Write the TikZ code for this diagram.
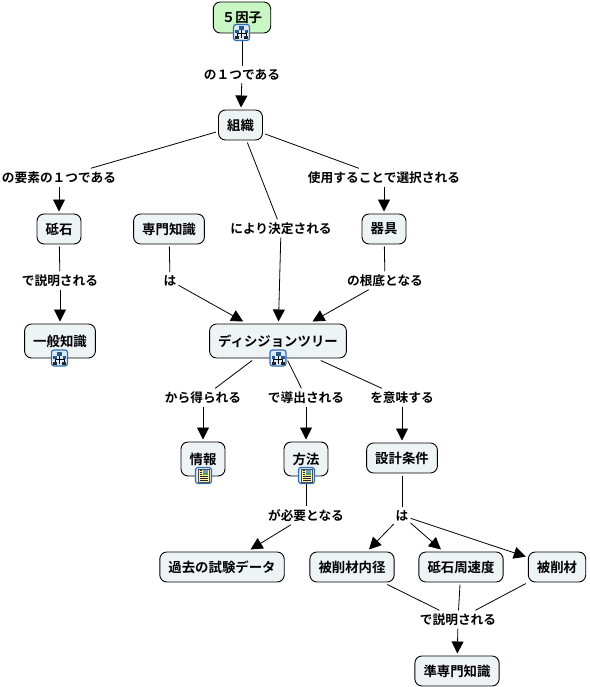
\documentclass[tikz,border=0pt]{standalone}
\usepackage{fontspec}
\setmainfont{Noto Sans CJK JP Bold}
\usetikzlibrary{arrows.meta}

\definecolor{conceptfill}{HTML}{EEF3F6}
\definecolor{rootfill}{HTML}{C9F7C4}
\definecolor{iconblue}{HTML}{2F6DB5}
\definecolor{iconpale}{HTML}{DCEBFA}
\definecolor{pagefill}{HTML}{FBF3A8}

\begin{document}
\begin{tikzpicture}[x=1pt,y=-1pt,
    concept/.style={draw=black,line width=0.9pt,fill=conceptfill,rounded corners=7pt,
        font=\fontsize{13.4}{13.4}\selectfont,inner xsep=8.6pt,inner ysep=0pt,
        minimum height=30pt,outer sep=2.5pt},
    root/.style={concept,fill=rootfill,minimum height=31pt},
    tall/.style={concept,minimum height=34pt},
    phrase/.style={font=\fontsize{12.7}{13}\selectfont,inner xsep=2pt,inner ysep=3pt},
    link/.style={line width=0.8pt},
    linkto/.style={line width=0.8pt,-{Triangle[length=12pt,width=12pt]}},
    frameicon/.style={draw=iconblue,line width=1.2pt,fill=iconpale,rounded corners=2.5pt},
    treeicon/.pic={
        \draw[frameicon] (-8,-8) rectangle (8,8);
        \draw[black,line width=0.7pt] (0,-3) -- (0,6) (-4.5,1) -- (4.5,1) (-4.5,1) -- (-4.5,4) (4.5,1) -- (4.5,4);
        \fill[iconblue!80!black] (-2.5,-6.5) rectangle (2.5,-2.5);
        \fill[iconblue!80!black] (-6.5,-2) rectangle (-3,1);
        \fill[iconblue!80!black] (3,-2) rectangle (6.5,1);
        \fill[black!85] (-6.5,3.5) rectangle (-2.5,6.5);
        \fill[black!85] (2.5,3.5) rectangle (6.5,6.5);
    },
    pageicon/.pic={
        \draw[frameicon] (-8,-8) rectangle (8,8);
        \fill[pagefill,draw=black!70,line width=0.5pt] (-5.5,-6.5) rectangle (5.5,6.5);
        \fill[green!45!black!70] (-0.5,-5.5) rectangle (4.5,-0.5);
        \fill[iconblue!70] (-0.5,-5.5) rectangle (4.5,-3);
        \draw[black!85,line width=0.7pt] (-4,-5) -- (-1.5,-5) (-4,-3) -- (-1.5,-3) (-4,-1) -- (-1.5,-1)
            (-4,1) -- (4,1) (-4,3) -- (4,3) (-4,5) -- (4,5);
    }
]

\useasboundingbox (0,0) rectangle (589,687);

% Concepts
\node[root] (factors) at (242,17.5) {５因子};
\node[concept] (team) at (240.5,125) {組織};
\node[concept] (wheel) at (59,229) {砥石};
\node[concept] (expert) at (169,229) {専門知識};
\node[concept] (tool) at (384,229) {器具};
\node[tall] (general) at (60,341) {一般知識};
\node[tall] (tree) at (278,341) {ディシジョンツリー};
\node[tall] (info) at (203,459) {情報};
\node[tall] (method) at (306,459) {方法};
\node[concept] (design) at (402,458) {設計条件};
\node[concept] (history) at (222,567) {過去の試験データ};
\node[concept] (bore) at (352,567) {被削材内径};
\node[concept] (speed) at (461,567) {砥石周速度};
\node[concept] (work) at (557,567) {被削材};
\node[concept] (semi) at (457,671) {準専門知識};

% Linking phrases
\node[phrase] (oneof) at (242,74.5) {の１つである};
\node[phrase] (element) at (59,177.5) {の要素の１つである};
\node[phrase] (decided) at (281,228.5) {により決定される};
\node[phrase] (chosen) at (384,177.5) {使用することで選択される};
\node[phrase] (explainA) at (60,280.5) {で説明される};
\node[phrase] (isA) at (170,280.5) {は};
\node[phrase] (basis) at (385,280.5) {の根底となる};
\node[phrase] (gained) at (203,397.5) {から得られる};
\node[phrase] (derived) at (306,397.5) {で導出される};
\node[phrase] (means) at (402,397.5) {を意味する};
\node[phrase] (needs) at (306,515.5) {が必要となる};
\node[phrase] (isB) at (402,515.5) {は};
\node[phrase] (explainB) at (458,619.5) {で説明される};

% Connectors
\draw[link] (factors) -- (oneof);
\draw[linkto] (oneof) -- (team);
\draw[link] (team) -- (element);
\draw[link] (team) -- (decided);
\draw[link] (team) -- (chosen);
\draw[linkto] (element) -- (wheel);
\draw[linkto] (decided) -- (tree);
\draw[linkto] (chosen) -- (tool);
\draw[link] (wheel) -- (explainA);
\draw[linkto] (explainA) -- (general);
\draw[link] (expert) -- (isA);
\draw[linkto] (isA) -- (tree);
\draw[link] (tool) -- (basis);
\draw[linkto] (basis) -- (tree);
\draw[link] (tree) -- (gained);
\draw[link] (tree) -- (derived);
\draw[link] (tree) -- (means);
\draw[linkto] (gained) -- (info);
\draw[linkto] (derived) -- (method);
\draw[linkto] (means) -- (design);
\draw[link] (method) -- (needs);
\draw[linkto] (needs) -- (history);
\draw[link] (design) -- (isB);
\draw[linkto] (isB) -- (bore);
\draw[linkto] (isB) -- (speed);
\draw[linkto] (isB) -- (work);
\draw[link] (bore) -- (explainB);
\draw[link] (speed) -- (explainB);
\draw[link] (work) -- (explainB);
\draw[linkto] (explainB) -- (semi);

% Icons on the concepts
\pic at (241.5,32.5) {treeicon};
\pic at (59.5,358) {treeicon};
\pic at (278,358) {treeicon};
\pic at (203.5,475.5) {pageicon};
\pic at (306.5,475.5) {pageicon};

\end{tikzpicture}
\end{document}
